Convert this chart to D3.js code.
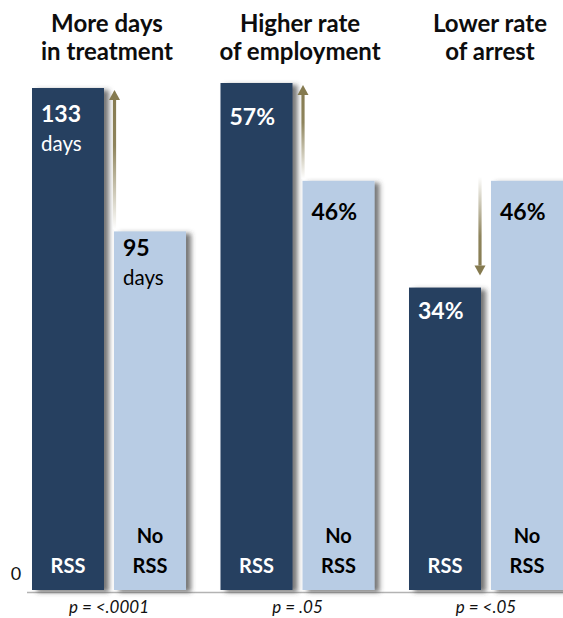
<!DOCTYPE html>
<html>
<head>
<meta charset="utf-8">
<script src="https://cdn.jsdelivr.net/npm/d3@7/dist/d3.min.js"></script>
<style>
  html, body { margin: 0; padding: 0; background: #fff; }
  svg { display: block; font-family: Lato, "Open Sans", sans-serif; }
</style>
</head>
<body>
<svg id="chart" width="563" height="618"></svg>
<script>
// ---- Data ----
const groups = ["days", "employment", "arrest"];
const titles = [["More days", "in treatment"], ["Higher rate", "of employment"], ["Lower rate", "of arrest"]];
const conditions = ["RSS", "No RSS"];
const rssValues = [133, 57, 34];
const noRssValues = [95, 46, 46];
const valueLabels = [["133", "95"], ["57%", "46%"], ["34%", "46%"]];
const unitLabels = [["days", "days"], ["", ""], ["", ""]];
const pValues = ["p = <.0001", "p = .05", "p = <.05"];
const tickLabels = ["0"];

// ---- Layout ----
const W = 563, H = 618;
const baseY = 590;
const navy = "#253f60", light = "#b8cce4";
const labelDy = [[34, 25], [42, 39], [31, 39]];
const titleShift = [-2, 2.5, 4];

const svg = d3.select("#chart");
const defs = svg.append("defs");

const shadow = defs.append("filter").attr("id", "shadow")
  .attr("x", "-20%").attr("y", "-5%").attr("width", "150%").attr("height", "115%");
shadow.append("feDropShadow").attr("dx", 5).attr("dy", 2).attr("stdDeviation", 2.6)
  .attr("flood-color", "#3a3a3a").attr("flood-opacity", 0.7);

const x0 = d3.scaleBand().domain(groups).range([32, 563]).paddingInner(0.183);
const x1 = d3.scaleBand().domain(conditions).range([0, x0.bandwidth()]).paddingInner(0.122);

const yDays = d3.scaleLinear().domain([0, 133]).range([baseY, 88]);
const yPct = d3.scaleLinear().domain([0, 57]).range([baseY, 83]);
const yScales = [yDays, yPct, yPct];

// axis baseline
svg.append("line")
  .attr("x1", 27).attr("x2", W).attr("y1", baseY + 2.5).attr("y2", baseY + 2.5)
  .attr("stroke", "#b3b3b3").attr("stroke-width", 1.5);

// zero tick label
svg.append("text").attr("x", 16).attr("y", yDays(0) - 10)
  .attr("text-anchor", "middle").attr("font-size", 18).attr("fill", "#111")
  .text(tickLabels[0]);

groups.forEach((g, gi) => {
  const y = yScales[gi];
  const vals = [rssValues[gi], noRssValues[gi]];
  const gx = x0(g);
  const cx = gx + x0.bandwidth() / 2;

  // titles
  titles[gi].forEach((t, li) => {
    svg.append("text").attr("x", cx + titleShift[gi]).attr("y", 32 + li * 28)
      .attr("text-anchor", "middle").attr("font-size", 24).attr("font-weight", 700)
      .attr("fill", "#0d0d0d").text(t);
  });

  // bars
  conditions.forEach((c, ci) => {
    svg.append("rect")
      .attr("x", gx + x1(c)).attr("y", y(vals[ci]))
      .attr("width", x1.bandwidth()).attr("height", baseY - y(vals[ci]))
      .attr("fill", ci === 0 ? navy : light)
      .attr("filter", "url(#shadow)");
  });

  // value labels
  conditions.forEach((c, ci) => {
    const bx = gx + x1(c) + 9;
    const ty = y(vals[ci]) + labelDy[gi][ci];
    const col = ci === 0 ? "#fff" : "#000";
    svg.append("text").attr("x", bx).attr("y", ty)
      .attr("font-size", 23).attr("font-weight", 700).attr("fill", col)
      .text(valueLabels[gi][ci]);
    if (unitLabels[gi][ci]) {
      svg.append("text").attr("x", bx).attr("y", ty + 29)
        .attr("font-size", 20.5).attr("fill", col).text(unitLabels[gi][ci]);
    }
  });

  // condition labels at bottom
  conditions.forEach((c, ci) => {
    const bcx = gx + x1(c) + x1.bandwidth() / 2;
    const col = ci === 0 ? "#fff" : "#000";
    const words = ci === 0 ? ["RSS"] : ["No", "RSS"];
    words.forEach((w, wi) => {
      svg.append("text").attr("x", bcx).attr("y", 573 - (words.length - 1 - wi) * 30)
        .attr("text-anchor", "middle").attr("font-size", 20).attr("font-weight", 700)
        .attr("fill", col).text(w);
    });
  });

  // arrow: sits at inner edge of the lower bar
  const hi = Math.max(vals[0], vals[1]);
  const lo = Math.min(vals[0], vals[1]);
  const up = vals[0] > vals[1];
  const ax = up ? gx + x1("No RSS") + 0.5 : gx + x1("RSS") + x1.bandwidth() - 1;
  const yTail = up ? y(lo) - 2 : y(hi) - 4;
  const yTip = up ? y(hi) + 2 : y(lo) - 12;
  const gid = "ag" + gi;
  const grad = defs.append("linearGradient").attr("id", gid)
    .attr("gradientUnits", "userSpaceOnUse")
    .attr("x1", 0).attr("x2", 0).attr("y1", yTip).attr("y2", yTail);
  grad.append("stop").attr("offset", "0%").attr("stop-color", "#857a4f");
  grad.append("stop").attr("offset", "40%").attr("stop-color", "#8e845c");
  grad.append("stop").attr("offset", "100%").attr("stop-color", "#ffffff");
  const head = 10, hw = 5.5;
  const dir = up ? 1 : -1;
  const neck = yTip + dir * head;
  svg.append("rect")
    .attr("x", ax - 1.6).attr("width", 3.2)
    .attr("y", Math.min(neck, yTail))
    .attr("height", Math.abs(yTail - neck))
    .attr("fill", `url(#${gid})`);
  svg.append("path")
    .attr("d", `M${ax},${yTip} L${ax - hw},${neck} L${ax + hw},${neck} Z`)
    .attr("fill", "#857a4f");

  // p-value
  svg.append("text").attr("x", cx).attr("y", 613)
    .attr("text-anchor", "middle").attr("font-size", 17).attr("font-style", "italic")
    .attr("fill", "#111").text(pValues[gi]);
});
</script>
</body>
</html>
